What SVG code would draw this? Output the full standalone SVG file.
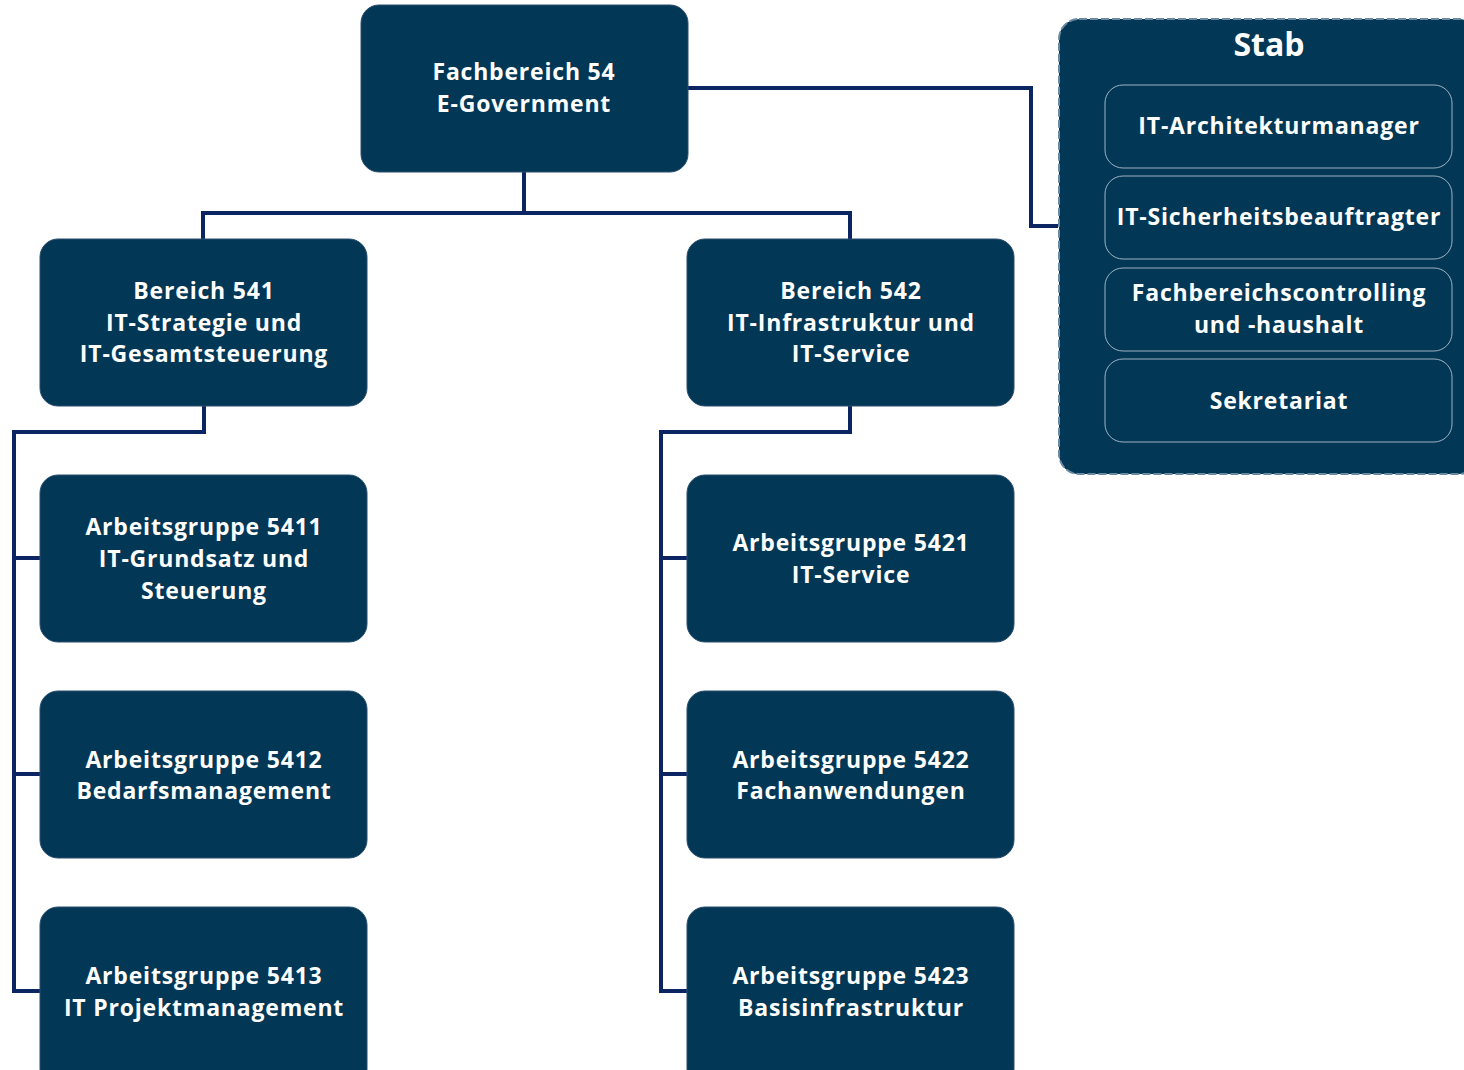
<svg xmlns="http://www.w3.org/2000/svg" width="1464" height="1070" viewBox="0 0 1464 1070">
<style>
.n{fill:#023755;stroke:#2a4d6e;stroke-width:1}
.s{fill:#023755;stroke:#9fb3c4;stroke-width:1}
.t{font-family:"Open Sans","Noto Sans","Liberation Sans",sans-serif;font-weight:bold;font-size:23px;letter-spacing:0.8px;fill:#ffffff;text-anchor:middle}
.c{fill:none;stroke:#0b2563;stroke-width:4}
</style>
<rect width="1464" height="1070" fill="#ffffff"/>
<g id="connectors">
<path class="c" d="M524 172V213M203 239V213H850V239"/>
<path class="c" d="M688 88H1031V226H1058"/>
<path class="c" d="M204 406V432H14V991H40M14 558H40M14 774H40"/>
<path class="c" d="M850 406V432H661V991H687M661 558H687M661 774H687"/>
</g>
<g id="fb54"><rect class="n" x="361" y="5" width="327" height="167" rx="18"/><text class="t" x="524" y="80">Fachbereich 54</text><text class="t" x="524" y="112">E-Government</text></g>
<g id="b541"><rect class="n" x="40" y="239" width="327" height="167" rx="18"/><text class="t" x="204" y="299">Bereich 541</text><text class="t" x="204" y="331">IT-Strategie und</text><text class="t" x="204" y="362">IT-Gesamtsteuerung</text></g>
<g id="b542"><rect class="n" x="687" y="239" width="327" height="167" rx="18"/><text class="t" x="851" y="299">Bereich 542</text><text class="t" x="851" y="331">IT-Infrastruktur und</text><text class="t" x="851" y="362">IT-Service</text></g>
<g id="ag5411"><rect class="n" x="40" y="475" width="327" height="167" rx="18"/><text class="t" x="204" y="535">Arbeitsgruppe 5411</text><text class="t" x="204" y="567">IT-Grundsatz und</text><text class="t" x="204" y="599">Steuerung</text></g>
<g id="ag5412"><rect class="n" x="40" y="691" width="327" height="167" rx="18"/><text class="t" x="204" y="768">Arbeitsgruppe 5412</text><text class="t" x="204" y="799">Bedarfsmanagement</text></g>
<g id="ag5413"><rect class="n" x="40" y="907" width="327" height="180" rx="18"/><text class="t" x="204" y="984">Arbeitsgruppe 5413</text><text class="t" x="204" y="1016">IT Projektmanagement</text></g>
<g id="ag5421"><rect class="n" x="687" y="475" width="327" height="167" rx="18"/><text class="t" x="851" y="551">Arbeitsgruppe 5421</text><text class="t" x="851" y="583">IT-Service</text></g>
<g id="ag5422"><rect class="n" x="687" y="691" width="327" height="167" rx="18"/><text class="t" x="851" y="768">Arbeitsgruppe 5422</text><text class="t" x="851" y="799">Fachanwendungen</text></g>
<g id="ag5423"><rect class="n" x="687" y="907" width="327" height="180" rx="18"/><text class="t" x="851" y="984">Arbeitsgruppe 5423</text><text class="t" x="851" y="1016">Basisinfrastruktur</text></g>
<g id="stab">
<rect x="1059" y="19" width="420" height="455" rx="20" fill="#023755" stroke="#6a8aa3" stroke-width="2" stroke-dasharray="8 3"/>
<text class="t" x="1269" y="56" style="font-size:32px;letter-spacing:0">Stab</text>
<g id="stab1"><rect class="s" x="1105" y="85" width="347" height="83" rx="18"/><text class="t" x="1279" y="134">IT-Architekturmanager</text></g>
<g id="stab2"><rect class="s" x="1105" y="176" width="347" height="83" rx="18"/><text class="t" x="1279" y="225">IT-Sicherheitsbeauftragter</text></g>
<g id="stab3"><rect class="s" x="1105" y="268" width="347" height="83" rx="18"/><text class="t" x="1279" y="301">Fachbereichscontrolling</text><text class="t" x="1279" y="333">und -haushalt</text></g>
<g id="stab4"><rect class="s" x="1105" y="359" width="347" height="83" rx="18"/><text class="t" x="1279" y="409">Sekretariat</text></g>
</g>
</svg>
